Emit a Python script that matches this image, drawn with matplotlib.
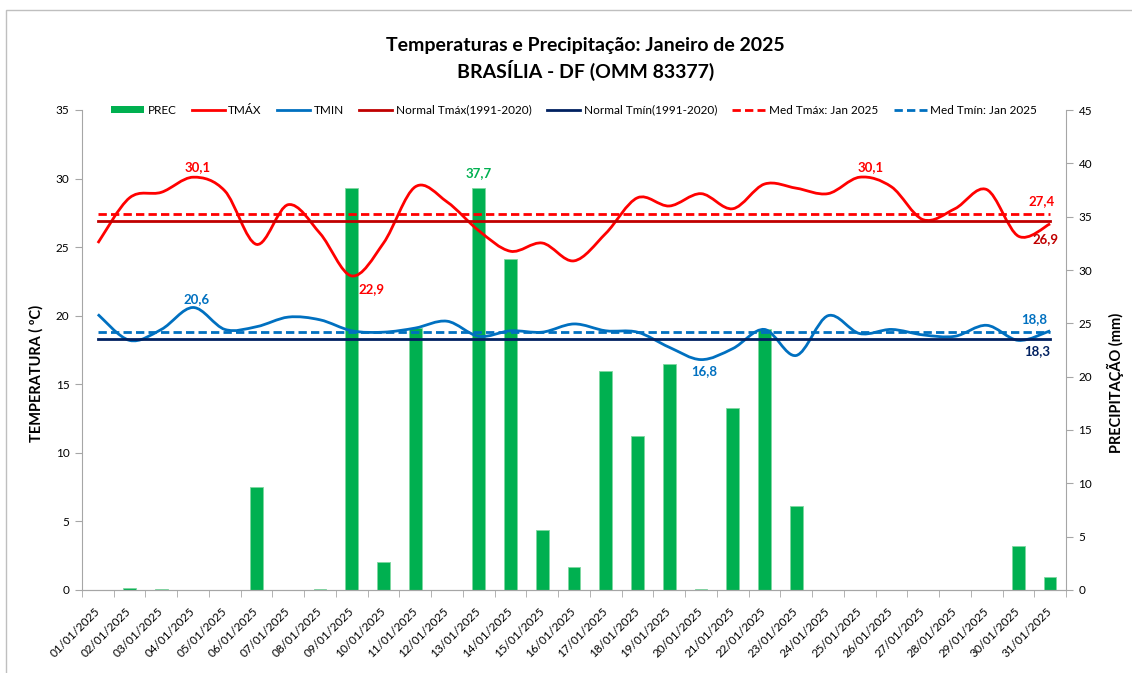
import numpy as np
import matplotlib.pyplot as plt
from matplotlib.path import Path
from matplotlib.patches import PathPatch, Rectangle, Patch
from matplotlib.lines import Line2D

plt.rcParams['font.family'] = ['Lato', 'DejaVu Sans']

# ---- data ----
days = np.arange(1, 32)
dates = ['%02d/01/2025' % d for d in days]

tmax = [25.3, 28.6, 29.0, 30.1, 29.1, 25.2, 28.1, 26.0, 22.9, 25.3,
        29.4, 28.3, 26.2, 24.7, 25.3, 24.0, 26.0, 28.6, 28.0, 28.9,
        27.8, 29.6, 29.3, 28.9, 30.1, 29.4, 27.0, 27.8, 29.2, 25.8, 26.7]
tmin = [20.1, 18.2, 19.0, 20.6, 19.0, 19.2, 19.9, 19.7, 18.9, 18.8,
        19.1, 19.6, 18.5, 18.9, 18.8, 19.4, 18.9, 18.8, 17.7, 16.8,
        17.6, 19.0, 17.1, 20.0, 18.7, 19.0, 18.6, 18.5, 19.3, 18.2, 18.9]
prec = [0.0, 0.2, 0.05, 0.0, 0.0, 9.7, 0.0, 0.05, 37.7, 2.6,
        24.6, 0.0, 37.7, 31.0, 5.6, 2.2, 20.5, 14.4, 21.2, 0.05,
        17.1, 24.5, 7.9, 0.0, 0.0, 0.0, 0.0, 0.0, 0.0, 4.1, 1.2]

normal_tmax = 26.9
normal_tmin = 18.3
med_tmax = 27.4
med_tmin = 18.8

GREEN = '#00B050'
RED = '#FF0000'
BLUE = '#0070C0'
DKRED = '#C00000'
NAVY = '#002060'
GRAY = '#A6A6A6'


def smooth_path(x, y):
    # Excel-like smoothed line: cubic bezier segments through the points
    x = np.asarray(x, float)
    y = np.asarray(y, float)
    n = len(x)
    verts = [(x[0], y[0])]
    codes = [Path.MOVETO]
    for i in range(n - 1):
        i0 = max(i - 1, 0)
        i3 = min(i + 2, n - 1)
        c1 = (x[i] + (x[i + 1] - x[i0]) / 6, y[i] + (y[i + 1] - y[i0]) / 6)
        c2 = (x[i + 1] - (x[i3] - x[i]) / 6, y[i + 1] - (y[i3] - y[i]) / 6)
        verts += [c1, c2, (x[i + 1], y[i + 1])]
        codes += [Path.CURVE4] * 3
    return Path(verts, codes)


fig = plt.figure(figsize=(11.32, 6.73), dpi=100)
ax = fig.add_axes([82 / 1132, 1 - 590 / 673, (1066 - 82) / 1132, 480 / 673])
ax2 = ax.twinx()
ax.set_zorder(ax2.get_zorder() + 1)
ax.patch.set_visible(False)

# chart border
fig.add_artist(Rectangle((6 / 1132, -0.1), 1.2, 1 - 10 / 673 + 0.1,
                         transform=fig.transFigure, fill=False,
                         edgecolor='#BFBFBF', lw=1))

# precipitation bars
ax2.bar(days, prec, width=0.4, color=GREEN, edgecolor='#7ED7A0', lw=0.6)
ax2.set_ylim(0, 45)
ax2.set_yticks(np.arange(0, 46, 5))

# temperature lines
lw = 2.0
ax.add_patch(PathPatch(smooth_path(days, tmax), fill=False, edgecolor=RED, lw=lw))
ax.add_patch(PathPatch(smooth_path(days, tmin), fill=False, edgecolor=BLUE, lw=lw))
ax.plot(days, [normal_tmax] * len(days), color=DKRED, lw=lw)
ax.plot(days, [normal_tmin] * len(days), color=NAVY, lw=lw)
ax.plot(days, [med_tmax] * len(days), color=RED, lw=lw, dashes=(3, 1.5))
ax.plot(days, [med_tmin] * len(days), color=BLUE, lw=lw, dashes=(3, 1.5))

ax.set_xlim(0.5, 31.5)
ax.set_ylim(0, 35)
ax.set_yticks(np.arange(0, 36, 5))
ax.set_xticks(days)
ax.set_xticklabels(dates, rotation=45, ha='right', va='center',
                   rotation_mode='anchor', fontsize=8.5)
ax.set_xticks(np.arange(0.5, 31.6, 1), minor=True)
ax.tick_params(axis='x', which='major', length=0, pad=14)
ax.tick_params(axis='x', which='minor', length=5, color=GRAY)
ax.tick_params(axis='y', length=5, color=GRAY, labelsize=8.5, pad=4)
ax2.tick_params(axis='y', length=5, color=GRAY, labelsize=8.5, pad=4)

for a in (ax, ax2):
    a.spines['top'].set_visible(False)
    for s in ('left', 'right', 'bottom'):
        a.spines[s].set_color(GRAY)
ax.spines['right'].set_visible(False)
ax2.spines['left'].set_visible(False)

ax.set_ylabel('TEMPERATURA ( ºC)', fontsize=10.5, fontweight='bold')
ax2.set_ylabel('PRECIPITAÇÃO (mm)', fontsize=10.5, fontweight='bold')
ax.yaxis.set_label_coords(-0.0386, 0.452)
ax2.yaxis.set_label_coords(1.0417, 0.431)

fig.text(585 / 1132, 1 - 45 / 673, 'Temperaturas e Precipitação: Janeiro de 2025',
         ha='center', va='center', fontsize=14, fontweight='bold')
fig.text(586 / 1132, 1 - 70 / 673, 'BRASÍLIA - DF (OMM 83377)',
         ha='center', va='center', fontsize=14, fontweight='bold')

# data labels
def lab(a, x, y, txt, color, dx, dy):
    a.annotate(txt, (x, y), xytext=(dx, dy), textcoords='offset pixels',
               ha='center', va='center', color=color, fontsize=9.5,
               fontweight='bold')

lab(ax, 4, tmax[3], '30,1', RED, 5, 10)
lab(ax, 9, tmax[8], '22,9', RED, 20, -13)
lab(ax, 25, tmax[24], '30,1', RED, 11, 10)
lab(ax2, 13, prec[12], '37,7', GREEN, 0, 15)
lab(ax, 4, tmin[3], '20,6', BLUE, 3, 8)
lab(ax, 20, tmin[19], '16,8', BLUE, 3, -11)
lab(ax, 31, med_tmax, '27,4', RED, -9, 13)
lab(ax, 31, normal_tmax, '26,9', DKRED, -5, -18)
lab(ax, 31, med_tmin, '18,8', BLUE, -16, 13)
lab(ax, 31, normal_tmin, '18,3', NAVY, -13, -12)

handles = [
    Patch(facecolor=GREEN),
    Line2D([], [], color=RED, lw=lw),
    Line2D([], [], color=BLUE, lw=lw),
    Line2D([], [], color=DKRED, lw=lw),
    Line2D([], [], color=NAVY, lw=lw),
    Line2D([], [], color=RED, lw=lw, dashes=(3, 1.5)),
    Line2D([], [], color=BLUE, lw=lw, dashes=(3, 1.5)),
]
labels = ['PREC', 'TMÁX', 'TMIN', 'Normal Tmáx(1991-2020)',
          'Normal Tmín(1991-2020)', 'Med Tmáx: Jan 2025', 'Med Tmín: Jan 2025']
ax.legend(handles, labels, ncol=7, loc='center', bbox_to_anchor=(0.5, 1.0),
          frameon=False, fontsize=8.5, handlelength=2.8, handletextpad=0.3,
          columnspacing=1.3, handleheight=0.6)

fig.savefig('out.png', dpi=100)
